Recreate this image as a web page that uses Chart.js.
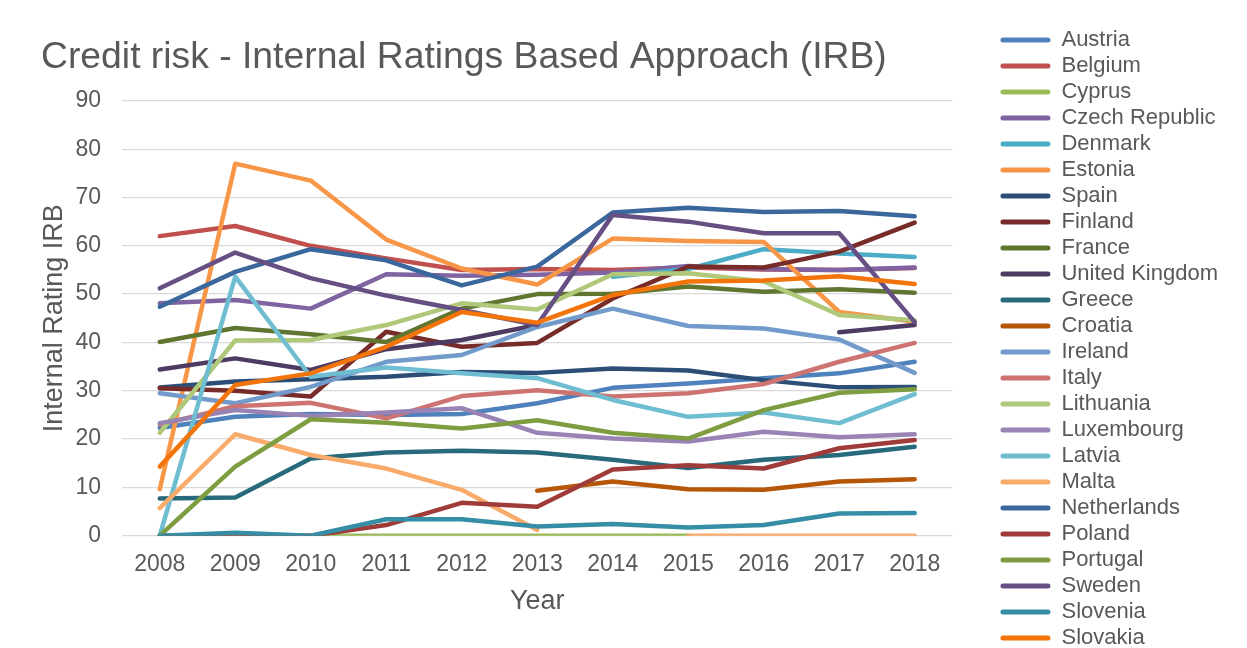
<!DOCTYPE html>
<html><head><meta charset="utf-8">
<script src="https://cdn.jsdelivr.net/npm/chart.js@4"></script>
<style>
html,body{margin:0;padding:0;background:#fff;overflow:hidden;width:1247px;height:648px}
#wrap{position:relative;width:1247px;height:700px}
</style></head><body><div id="wrap"><canvas id="c" width="1247" height="700"></canvas></div>
<script>
const years = ['2008','2009','2010','2011','2012','2013','2014','2015','2016','2017','2018'];
const countries = ['Austria','Belgium','Cyprus','Czech Republic','Denmark','Estonia','Spain','Finland','France','United Kingdom','Greece','Croatia','Ireland','Italy','Lithuania','Luxembourg','Latvia','Malta','Netherlands','Poland','Portugal','Sweden','Slovenia','Slovakia'];
const colors = ['#4F81BD','#C0504D','#9BBB59','#8064A2','#4BACC6','#F79646','#2C4D75','#772C2A','#5F7530','#4D3B62','#276A7C','#B65708','#729ACA','#CD7371','#AFC87A','#9983B5','#6FBDD1','#F9AB6B','#3A679C','#9F3B38','#7E9D40','#664F83','#358EA6','#F3740A'];

const austria     = [22.3, 24.6, 25.2, 25.0, 25.2, 27.4, 30.6, 31.5, 32.6, 33.6, 36.0];
const belgium     = [62.0, 64.1, 60.0, 57.4, 55.0, 55.2, 55.0, 55.5, 55.1, 55.0, 55.4];
const cyprus      = [0, 0, 0, 0, 0, 0, 0, 0, null, null, null];
const czech       = [48.1, 48.8, 47.0, 54.1, 53.8, 54.0, 54.5, 55.8, 55.2, 55.0, 55.5];
const denmark     = [null, null, null, null, null, null, 53.6, 55.2, 59.3, 58.4, 57.7];
const estonia     = [9.6, 77.0, 73.5, 61.3, 55.3, 52.0, 61.5, 61.0, 60.8, 46.3, 44.3];
const spain       = [30.7, 31.9, 32.4, 32.9, 33.9, 33.7, 34.6, 34.2, 32.2, 30.7, 30.8];
const finland     = [30.5, 30.0, 28.8, 42.2, 39.1, 39.9, 49.1, 55.7, 55.5, 58.8, 64.8];
const france      = [40.1, 43.0, 41.7, 40.1, 47.0, 50.0, 50.1, 51.6, 50.5, 51.0, 50.3];
const uk          = [34.4, 36.7, 34.3, 38.6, 40.5, 43.6, null, null, null, 42.1, 43.6];
const greece      = [7.7, 7.9, 16.0, 17.2, 17.6, 17.2, 15.7, 14.0, 15.7, 16.7, 18.4];
const croatia     = [null, null, null, null, null, 9.3, 11.2, 9.6, 9.5, 11.2, 11.7];
const ireland     = [29.5, 27.4, 30.8, 36.0, 37.4, 43.2, 47.0, 43.4, 42.9, 40.6, 33.7];
const italy       = [23.0, 26.8, 27.5, 24.3, 28.9, 30.1, 28.8, 29.5, 31.4, 36.0, 39.9];
const lithuania   = [21.3, 40.4, 40.5, 43.6, 48.1, 46.8, 54.1, 54.3, 52.6, 45.7, 44.6];
const luxembourg  = [23.3, 26.0, 24.8, 25.5, 26.4, 21.3, 20.1, 19.5, 21.5, 20.4, 21.0];
const latvia      = [0, 53.6, 32.9, 34.8, 33.6, 32.6, 28.1, 24.6, 25.5, 23.3, 29.3];
const malta       = [5.7, 21.0, 16.7, 13.9, 9.5, 1.2, null, 0, 0, 0, 0];
const netherlands = [47.4, 54.6, 59.3, 57.0, 51.8, 55.7, 66.9, 67.9, 67.0, 67.2, 66.1];
const poland      = [0, 0, 0, 2.2, 6.8, 6.0, 13.7, 14.6, 13.9, 18.1, 19.8];
const portugal    = [0, 14.3, 24.1, 23.4, 22.2, 23.9, 21.3, 20.1, 26.0, 29.6, 30.3];
const sweden      = [51.2, 58.6, 53.3, 49.7, 46.7, 43.6, 66.4, 65.0, 62.6, 62.6, 44.2];
const slovenia    = [0, 0.6, 0, 3.4, 3.4, 1.9, 2.4, 1.7, 2.2, 4.6, 4.7];
const slovakia    = [14.3, 31.2, 33.6, 39.1, 46.3, 44.1, 49.8, 52.6, 52.8, 53.7, 52.1];

const seriesValues = [austria, belgium, cyprus, czech, denmark, estonia, spain, finland, france, uk, greece, croatia, ireland, italy, lithuania, luxembourg, latvia, malta, netherlands, poland, portugal, sweden, slovenia, slovakia];

const yTicks = {min: 0, max: 90, step: 10};

Chart.defaults.font.family = "'Liberation Sans', Arial, sans-serif";
Chart.defaults.color = '#595959';

const LEGEND_GAP = 44;
const legendGap = {
  id: 'legendGap',
  beforeLayout(chart) {
    const lg = chart.legend;
    if (lg && !lg.__gap) {
      const origFit = lg.fit;
      lg.fit = function () { origFit.call(this); this.width += LEGEND_GAP; };
      lg.__gap = true;
    }
  },
  afterLayout(chart) {
    if (chart.legend) chart.legend.left += LEGEND_GAP;
  }
};

const datasets = countries.map((name, i) => ({
  label: name,
  data: seriesValues[i],
  borderColor: colors[i],
  backgroundColor: colors[i],
  borderWidth: 4.5,
  pointRadius: 0,
  pointHoverRadius: 0,
  borderCapStyle: 'round',
  borderJoinStyle: 'round',
  tension: 0,
  fill: false,
  spanGaps: false,
  order: -i
}));

new Chart(document.getElementById('c'), {
  type: 'line',
  data: {labels: years, datasets},
  plugins: [legendGap],
  options: {
    responsive: false,
    animation: false,
    devicePixelRatio: 1,
    layout: {padding: {top: 25, left: 41, right: 19, bottom: 0}},
    plugins: {
      title: {display: true, text: 'Credit risk - Internal Ratings Based Approach (IRB)', align: 'start', color: '#595959', font: {size: 37.3, weight: 'normal'}, padding: {top: 10, bottom: 21.1}},
      legend: {
        position: 'right', align: 'start',
        labels: {
          boxWidth: 50, boxHeight: 5, padding: 4, color: '#595959', font: {size: 22},
          useBorderRadius: true, borderRadius: 2.5,
          sort: (a, b) => a.datasetIndex - b.datasetIndex,
          generateLabels: chart => Chart.defaults.plugins.legend.labels.generateLabels(chart).map(l => Object.assign(l, {fillStyle: l.strokeStyle, lineWidth: 0}))
        }
      },
      tooltip: {enabled: false}
    },
    scales: {
      x: {
        offset: true,
        grid: {display: false},
        border: {display: false},
        ticks: {padding: 7.5, font: {size: 23}, color: '#595959', autoSkip: false, maxRotation: 0},
        title: {display: true, text: 'Year', font: {size: 27}, color: '#595959', padding: {top: 0, bottom: 82}},
        afterFit: s => { s.height = 164.3; }
      },
      y: {
        min: yTicks.min, max: yTicks.max,
        ticks: {stepSize: yTicks.step, padding: 21, font: {size: 23}, color: '#595959'},
        grid: {color: '#D9D9D9', lineWidth: 1.3, drawTicks: false},
        border: {display: false},
        title: {display: true, text: 'Internal Rating IRB', font: {size: 27, lineHeight: 1}, color: '#595959', padding: 0},
        afterFit: s => { s.width = 81; }
      }
    }
  }
});
</script></body></html>
